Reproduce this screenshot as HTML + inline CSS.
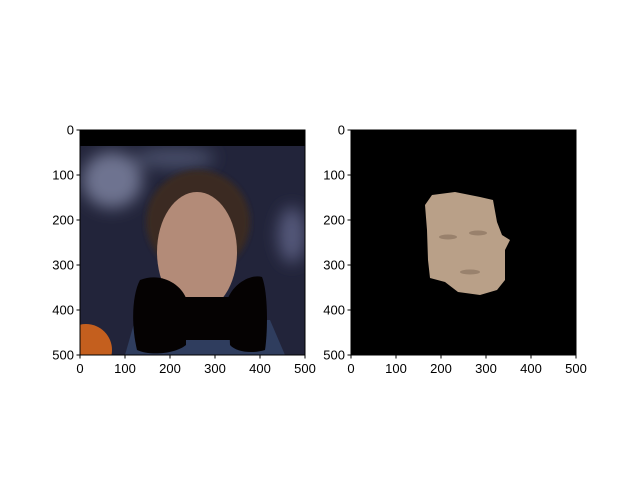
<!DOCTYPE html>
<html><head><meta charset="utf-8"><style>
html,body{margin:0;padding:0;background:#fff;}
svg{display:block;font-family:"Liberation Sans","DejaVu Sans",sans-serif;}
</style></head><body>
<svg id="fig" width="640" height="480" viewBox="0 0 640 480">
<defs>
<filter id="blur" x="-20%" y="-20%" width="140%" height="140%"><feGaussianBlur stdDeviation="8"/></filter>
<filter id="blur2"><feGaussianBlur stdDeviation="3"/></filter>
<clipPath id="clipL"><rect x="80" y="130" width="225" height="225"/></clipPath>
<clipPath id="clipR"><rect x="351" y="130" width="225" height="225"/></clipPath>
</defs>
<g clip-path="url(#clipL)">
<rect x="80" y="130" width="225" height="225" fill="#22243a"/>
<g filter="url(#blur)">
<ellipse cx="112" cy="180" rx="30" ry="28" fill="#6e7390"/>
<ellipse cx="175" cy="158" rx="40" ry="10" fill="#4a4f6a"/>
<ellipse cx="292" cy="235" rx="14" ry="28" fill="#55597a"/>
</g>
<rect x="80" y="130" width="225" height="16" fill="#000"/>
<g><path d="M125,355 L135,320 L270,320 L285,355 Z" fill="#2f3d5e"/></g>
<g filter="url(#blur2)">
<ellipse cx="198" cy="222" rx="52" ry="52" fill="#3b2c22"/>
</g>
<g>
<ellipse cx="197" cy="252" rx="40" ry="60" fill="#b38b78"/>
</g>
<circle cx="86" cy="350" r="26" fill="#c45f1e"/>
<g fill="#050202">
<path d="M140,280 C160,272 180,283 186,298 L186,345 C175,354 150,356 137,350 C131,325 132,295 140,280 Z"/>
<path d="M228,298 C235,282 252,274 262,277 C268,292 268,330 265,350 C252,354 236,352 230,345 Z"/>
<rect x="180" y="297" width="52" height="43"/>
</g>
</g>
<g clip-path="url(#clipR)">
<rect x="351" y="130" width="225" height="225" fill="#000"/>
<polygon fill="#b9a088" points="425,205 432,195 455,192 480,197 493,200 497,222 502,235 510,240 505,250 505,280 497,290 480,295 458,292 445,282 430,278 428,260 427,230"/>
<g fill="#7a6452" opacity="0.5">
<ellipse cx="448" cy="237" rx="9" ry="2.5"/>
<ellipse cx="478" cy="233" rx="9" ry="2.5"/>
<ellipse cx="470" cy="272" rx="10" ry="2.5"/>
</g>
</g>
<g id="axes" stroke="#000" fill="none" stroke-width="1"></g>
<g id="labels" font-size="13" fill="#000"></g>
<script>
var ticks=[0,100,200,300,400,500];
var tickLabels=["0","100","200","300","400","500"];
var domainMax=500;
var axesX=[80,351];
var ax=document.getElementById('axes'),lb=document.getElementById('labels'),ns='http://www.w3.org/2000/svg';
var size=225,top0=130;
axesX.forEach(function(x0,k){
 var r=document.createElementNS(ns,'rect');
 r.setAttribute('x',x0);r.setAttribute('y',top0);r.setAttribute('width',size);r.setAttribute('height',size);
 
 
 ax.appendChild(r);
 ticks.forEach(function(t,i){
  var p=t/domainMax*size;
  var l=document.createElementNS(ns,'line');
  l.setAttribute('x1',x0+p);l.setAttribute('x2',x0+p);l.setAttribute('y1',top0+size);l.setAttribute('y2',top0+size+3.5);
  
  
  ax.appendChild(l);
  var m=document.createElementNS(ns,'line');
  m.setAttribute('x1',x0-3.5);m.setAttribute('x2',x0);m.setAttribute('y1',top0+p);m.setAttribute('y2',top0+p);
  
  
  ax.appendChild(m);
  var tx=document.createElementNS(ns,'text');
  tx.setAttribute('x',x0+p);tx.setAttribute('y',top0+size+18);tx.setAttribute('text-anchor','middle');
  tx.textContent=tickLabels[i];
  
  
  lb.appendChild(tx);
  var ty=document.createElementNS(ns,'text');
  ty.setAttribute('x',x0-6);ty.setAttribute('y',top0+p+4.5);ty.setAttribute('text-anchor','end');
  ty.textContent=tickLabels[i];
  
  
  lb.appendChild(ty);
 });
});
</script>
</svg>
</body></html>
